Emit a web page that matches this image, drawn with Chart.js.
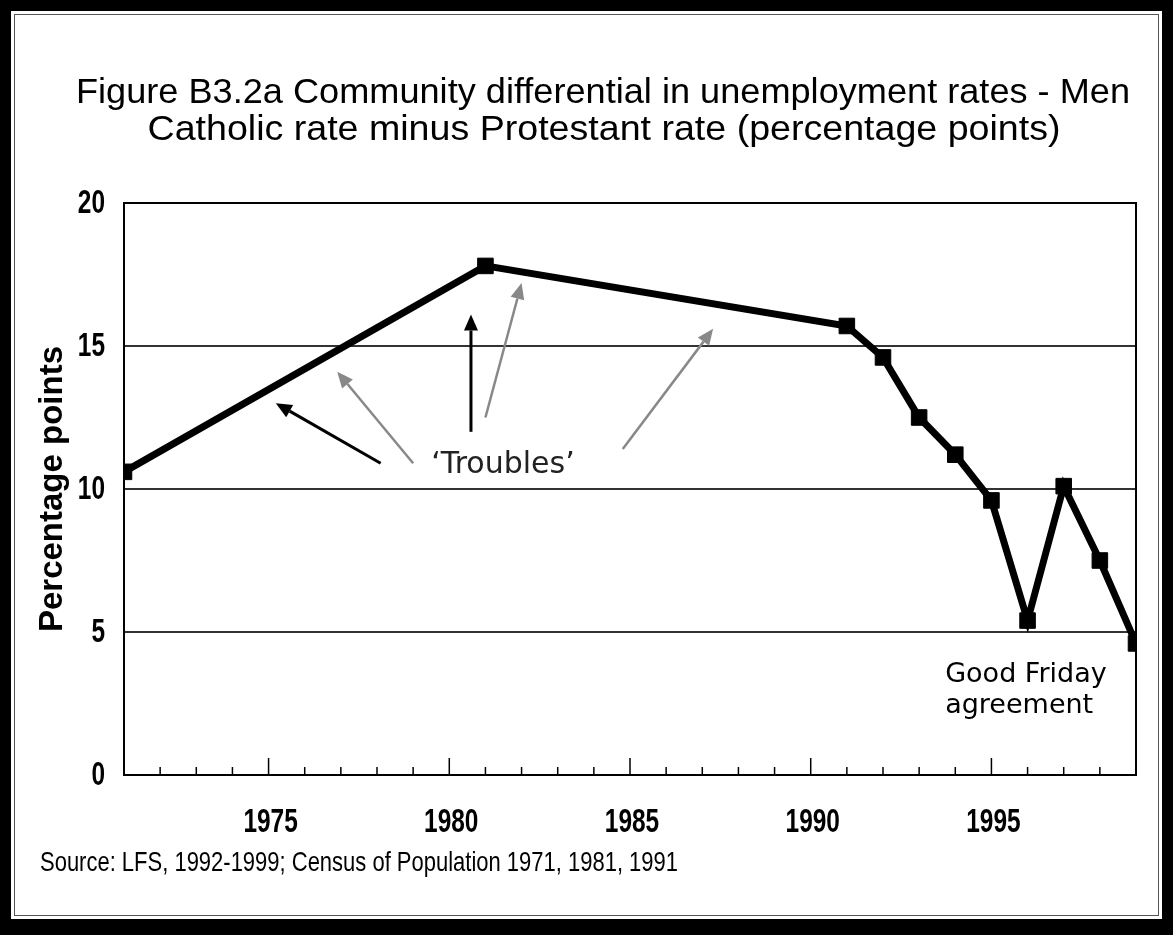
<!DOCTYPE html>
<html>
<head>
<meta charset="utf-8">
<title>Community differential in unemployment rates - Men</title>
<script src="https://cdn.jsdelivr.net/npm/chart.js@4.4.1/dist/chart.umd.min.js"></script>
<style>
    html, body { margin: 0; padding: 0; background: #000; width: 1173px; height: 935px; overflow: hidden; }
    #paper { position: absolute; left: 11px; top: 11px; width: 1151px; height: 908px; background: #fff; }
    #edge { position: absolute; left: 3px; top: 3px; right: 3px; bottom: 3px; border: 1px solid #555; }
    #holder { position: absolute; left: 0; top: 0; width: 1173px; height: 935px; }
</style>
</head>
<body>
<div id="paper"><div id="edge"></div></div>
<div id="holder"><canvas id="diffChart"></canvas></div>
<script>
// years with a reading, and Catholic minus Protestant rate (percentage points)
const years = [1971, 1981, 1991, 1992, 1993, 1994, 1995, 1996, 1997, 1998, 1999];
const differential = [10.6, 17.8, 15.7, 14.6, 12.5, 11.2, 9.6, 5.4, 10.1, 7.5, 4.6];
const yTicks = [0, 5, 10, 15, 20];
const yearLabels = [1975, 1980, 1985, 1990, 1995];

const titleLines = [
    'Figure B3.2a Community differential in unemployment rates - Men',
    'Catholic rate minus Protestant rate (percentage points)'
];
const sourceNote = 'Source: LFS, 1992-1999; Census of Population 1971, 1981, 1991';

// arrows in data space: [fromYear, fromValue, toYear, toValue, colour]
const troubleArrows = [
    [1978.1, 10.9, 1975.2, 13.0, '#000'],
    [1979.0, 10.9, 1976.9, 14.1, '#888'],
    [1980.6, 12.0, 1980.6, 16.1, '#000'],
    [1981.0, 12.5, 1982.0, 17.2, '#888'],
    [1984.8, 11.4, 1987.3, 15.6, '#888']
];

// the axis numbers are a tall, narrow bold face; squeeze a normal bold one
const tickFont = "bold 33px 'Liberation Sans'";
const tickSqueeze = 0.74;

function fittedText(ctx, text, font, x, y, width, align){
    ctx.save();
    ctx.font = font;
    let w = ctx.measureText(text).width;
    ctx.translate(x, y);
    ctx.scale(width / w, 1);
    ctx.textAlign = align;
    ctx.textBaseline = 'alphabetic';
    ctx.fillStyle = '#000';
    ctx.fillText(text, 0, 0);
    ctx.restore();
}

function squeezedText(ctx, text, x, y, align){
    ctx.save();
    ctx.font = tickFont;
    ctx.translate(x, y);
    ctx.scale(tickSqueeze, 1);
    ctx.textAlign = align;
    ctx.textBaseline = 'middle';
    ctx.fillStyle = '#000';
    ctx.fillText(text, 0, 0);
    ctx.restore();
}

function arrow(ctx, x1, y1, x2, y2, colour){
    let a = Math.atan2(y2 - y1, x2 - x1);
    let len = 16, half = 7;
    let bx = x2 - Math.cos(a) * len, by = y2 - Math.sin(a) * len;
    ctx.save();
    ctx.strokeStyle = colour;
    ctx.fillStyle = colour;
    ctx.lineWidth = colour === '#000' ? 3 : 2.5;
    ctx.beginPath();
    ctx.moveTo(x1, y1);
    ctx.lineTo(bx, by);
    ctx.stroke();
    ctx.beginPath();
    ctx.moveTo(x2, y2);
    ctx.lineTo(bx + Math.sin(a) * half, by - Math.cos(a) * half);
    ctx.lineTo(bx - Math.sin(a) * half, by + Math.cos(a) * half);
    ctx.closePath();
    ctx.fill();
    ctx.restore();
}

const decorations = {
    id: 'decorations',
    afterDatasetsDraw(chart){
        let ctx = chart.ctx;
        let x = chart.scales.x, y = chart.scales.y;
        troubleArrows.forEach(a => {
            arrow(ctx, x.getPixelForValue(a[0]), y.getPixelForValue(a[1]),
                       x.getPixelForValue(a[2]), y.getPixelForValue(a[3]), a[4]);
        });
        ctx.save();
        ctx.fillStyle = '#222';
        ctx.font = "30px 'DejaVu Sans'";
        ctx.textAlign = 'left';
        ctx.textBaseline = 'alphabetic';
        ctx.fillText('\u2018Troubles\u2019', x.getPixelForValue(1979.5), y.getPixelForValue(10.55));
        ctx.fillStyle = '#000';
        ctx.font = "27px 'DejaVu Sans'";
        ctx.fillText('Good Friday', x.getPixelForValue(1993.72), y.getPixelForValue(3.25));
        ctx.fillText('agreement', x.getPixelForValue(1993.72), y.getPixelForValue(2.17));
        ctx.restore();
    },
    afterDraw(chart){
        let ctx = chart.ctx;
        let x = chart.scales.x, y = chart.scales.y;
        let area = chart.chartArea;
        // year tick marks point up into the plot
        ctx.save();
        ctx.strokeStyle = '#000';
        ctx.lineWidth = 1.5;
        x.ticks.forEach(t => {
            let px = x.getPixelForValue(t.value);
            let h = t.value % 5 === 0 ? 17 : 8;
            ctx.beginPath();
            ctx.moveTo(px, area.bottom);
            ctx.lineTo(px, area.bottom - h);
            ctx.stroke();
        });
        ctx.restore();
        yTicks.forEach(v => squeezedText(ctx, String(v), area.left - 19, y.getPixelForValue(v) + 1, 'right'));
        yearLabels.forEach(v => squeezedText(ctx, String(v), x.getPixelForValue(v) + 2, area.bottom + 48, 'center'));
        fittedText(ctx, titleLines[0], "35px 'Liberation Sans'", 603, 103, 1054, 'center');
        fittedText(ctx, titleLines[1], "35px 'Liberation Sans'", 604, 140, 913, 'center');
        fittedText(ctx, sourceNote, "28px 'Liberation Sans'", 40, 871, 638, 'left');
    }
};

function differentialChart(id){
    const data = {
        datasets: [{
            label: 'Catholic rate minus Protestant rate',
            data: years.map((yr, i) => ({x: yr, y: differential[i]})),
            borderColor: '#000',
            borderWidth: 7,
            backgroundColor: '#000',
            pointStyle: 'rect',
            pointRadius: 11,
            pointBorderWidth: 1,
            pointBackgroundColor: '#000',
            tension: 0,
            clip: 0
        }]
    };

    const config = {
        type: 'line',
        data: data,
        options: {
            responsive: true,
            maintainAspectRatio: false,
            animation: false,
            layout: {padding: {left: 0, right: 37, top: 203, bottom: 100}},
            plugins: {legend: {display: false}, tooltip: {enabled: false}, title: {display: false}},
            scales: {
                x: {
                    type: 'linear',
                    min: 1971,
                    max: 1999,
                    afterFit: s => { s.height = 60; },
                    grid: {display: false, drawTicks: false, tickLength: 0},
                    border: {display: true, color: '#000', width: 2},
                    ticks: {stepSize: 1, autoSkip: false, display: false}
                },
                y: {
                    min: 0,
                    max: 20,
                    afterFit: s => { s.width = 124; },
                    afterBuildTicks: s => { s.ticks = yTicks.map(v => ({value: v})); },
                    grid: {
                        drawTicks: false,
                        color: c => (c.tick && (c.tick.value === 0 || c.tick.value === 20)) ? '#000' : '#333',
                        lineWidth: 2
                    },
                    border: {display: true, color: '#000', width: 2},
                    ticks: {display: false},
                    title: {
                        display: true,
                        text: 'Percentage points',
                        color: '#000',
                        font: {family: "'Liberation Sans'", size: 33, weight: 'bold'},
                        padding: {top: 33, bottom: 0}
                    }
                },
                right: {
                    position: 'right',
                    min: 0,
                    max: 20,
                    afterFit: s => { s.width = 0; },
                    grid: {display: false, drawTicks: false},
                    border: {display: true, color: '#000', width: 2},
                    ticks: {display: false}
                }
            }
        },
        plugins: [decorations]
    };

    let c = document.getElementById(id).getContext("2d")
    new Chart(c, config)
}

differentialChart('diffChart');
</script>
</body>
</html>
